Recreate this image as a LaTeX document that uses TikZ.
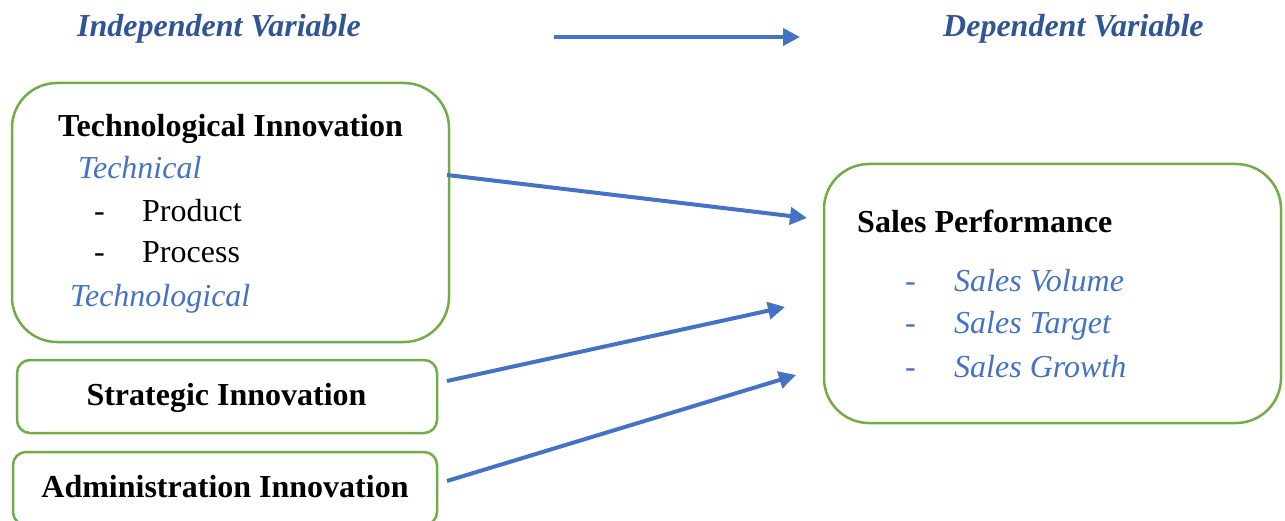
\documentclass[tikz,border=0pt]{standalone}
\usepackage{fontspec}
\setmainfont{Liberation Serif}
\usetikzlibrary{arrows.meta}
\definecolor{headblue}{HTML}{2F5597}
\definecolor{itblue}{HTML}{4472C4}
\definecolor{boxgreen}{HTML}{70AD47}
\begin{document}
\begin{tikzpicture}[x=1pt,y=-1pt,
  txt/.style={inner sep=0pt,anchor=base west,font=\fontsize{32}{38}\selectfont},
  head/.style={txt,text=headblue,font=\fontsize{32}{38}\selectfont\bfseries\itshape},
  btxt/.style={txt,font=\fontsize{32}{38}\selectfont\bfseries},
  itxt/.style={txt,text=itblue,font=\fontsize{32}{38}\selectfont\itshape},
  gbox/.style={draw=boxgreen,line width=2.5pt,rectangle,inner sep=0pt},
  conn/.style={draw=itblue,line width=4pt,-{Triangle[length=17pt,width=17pt]}}]
\useasboundingbox (0,0) rectangle (1285,521);
% boxes
\node[gbox,rounded corners=45pt,minimum width=437pt,minimum height=259pt] (tech) at (230.5,212.5) {};
\node[gbox,rounded corners=13pt,minimum width=420pt,minimum height=73pt] (strat) at (227,396.5) {};
\node[gbox,rounded corners=13pt,minimum width=424pt,minimum height=73pt] (admin) at (225,488.5) {};
\node[gbox,rounded corners=45pt,minimum width=457pt,minimum height=259pt] (sales) at (1052.5,293.5) {};
% headings
\node[head] (iv) at (77,37) {Independent Variable};
\node[head] (dv) at (943,37) {Dependent Variable};
% tech texts
\node[btxt] (t1) at (58,137) {Technological Innovation};
\node[itxt] (t2) at (78,179) {Technical};
\node[txt] (t3a) at (94,222) {-};
\node[txt] (t3) at (142,222) {Product};
\node[txt] (t4a) at (94,263) {-};
\node[txt] (t4) at (142,263) {Process};
\node[itxt] (t5) at (70,306) {Technological};
\node[btxt,anchor=base] (s1) at (226.5,405) {Strategic Innovation};
\node[btxt,anchor=base] (a1) at (225,497) {Administration Innovation};
% sales texts
\node[btxt] (p1) at (857,233) {Sales Performance};
\node[itxt] (p2a) at (905,292) {-};
\node[itxt] (p2) at (954,292) {Sales Volume};
\node[itxt] (p3a) at (905,334) {-};
\node[itxt] (p3) at (954,334) {Sales Target};
\node[itxt] (p4a) at (905,377) {-};
\node[itxt] (p4) at (954,377) {Sales Growth};
% connector end points
\coordinate (topA) at (554,37);
\coordinate (topB) at (800,37);
\coordinate (techOut) at (447,175);
\coordinate (techIn) at (807,218);
\coordinate (stratOut) at (447,381);
\coordinate (stratIn) at (785,307);
\coordinate (adminOut) at (447,481);
\coordinate (adminIn) at (796,375);
\draw[conn] (topA) -- (topB);
\draw[conn] (techOut) -- (techIn);
\draw[conn] (stratOut) -- (stratIn);
\draw[conn] (adminOut) -- (adminIn);
\end{tikzpicture}
\end{document}
